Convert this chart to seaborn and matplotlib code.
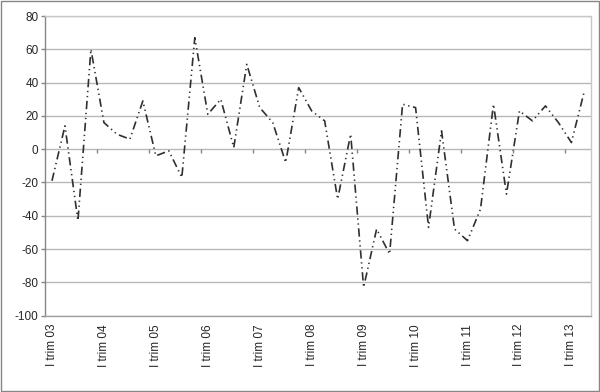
import numpy as np
import pandas as pd
import matplotlib
matplotlib.use('Agg')
import matplotlib.pyplot as plt
import seaborn as sns
from matplotlib.patches import Rectangle

# quarterly values, I trim 03 .. II trim 13
values = [-19, 14, -43, 60, 16, 9, 6, 29, -4, -1,
          -17, 67, 21, 30, 1, 51, 25, 16, -8, 37,
          23, 17, -30, 9, -83, -48, -63, 27, 25, -47,
          11, -48, -55, -36, 27, -27, 23, 17, 26, 16,
          4, 35]
year_labels = ['I trim 03', 'I trim 04', 'I trim 05', 'I trim 06', 'I trim 07',
               'I trim 08', 'I trim 09', 'I trim 10', 'I trim 11', 'I trim 12',
               'I trim 13']
y_ticks = [-100, -80, -60, -40, -20, 0, 20, 40, 60, 80]

df = pd.DataFrame({'q': np.arange(len(values)), 'v': values})

sns.set_style('white')
plt.rcParams['font.family'] = ['Liberation Sans', 'DejaVu Sans']

fig = plt.figure(figsize=(6, 3.92), dpi=100)
ax = fig.add_axes([0.0758, 0.195, 0.909, 0.764])

sns.lineplot(data=df, x='q', y='v', ax=ax, color='#303030', linewidth=1.2,
             linestyle=(0, (5, 2.2, 0.8, 2.2, 0.8, 2.2)))

ax.set_xlim(-0.5, len(values) - 0.5)
ax.set_ylim(-100, 80)
ax.set_yticks(y_ticks)
ax.set_yticklabels([str(t) for t in y_ticks], fontsize=8.5)
ax.set_xticks(np.arange(0, len(values), 4)[:len(year_labels)])
ax.set_xticklabels(year_labels, rotation=90, fontsize=8.5, va='top')
ax.set_xlabel('')
ax.set_ylabel('')

ax.grid(axis='y', color='#b8b8b8', linewidth=1)
ax.set_axisbelow(True)
ax.tick_params(axis='y', length=3, width=1, color='#868686', pad=2, left=True)
ax.tick_params(axis='x', length=0, pad=6)

# small category ticks on the zero line
ax.vlines(np.arange(3.5, len(values) - 1, 4), -2.4, 0, color='#868686', linewidth=1)

ax.spines['left'].set_color('#868686')
ax.spines['bottom'].set_color('#a0a0a0')
ax.spines['top'].set_color('#c8c8c8')
ax.spines['right'].set_color('#c8c8c8')
for s in ax.spines.values():
    s.set_linewidth(1)

# outer chart border
fig.add_artist(Rectangle((0.001, 0.002), 0.997, 0.996, transform=fig.transFigure,
                         fill=False, edgecolor='#868686', linewidth=1))

fig.savefig('out.png', dpi=100)
